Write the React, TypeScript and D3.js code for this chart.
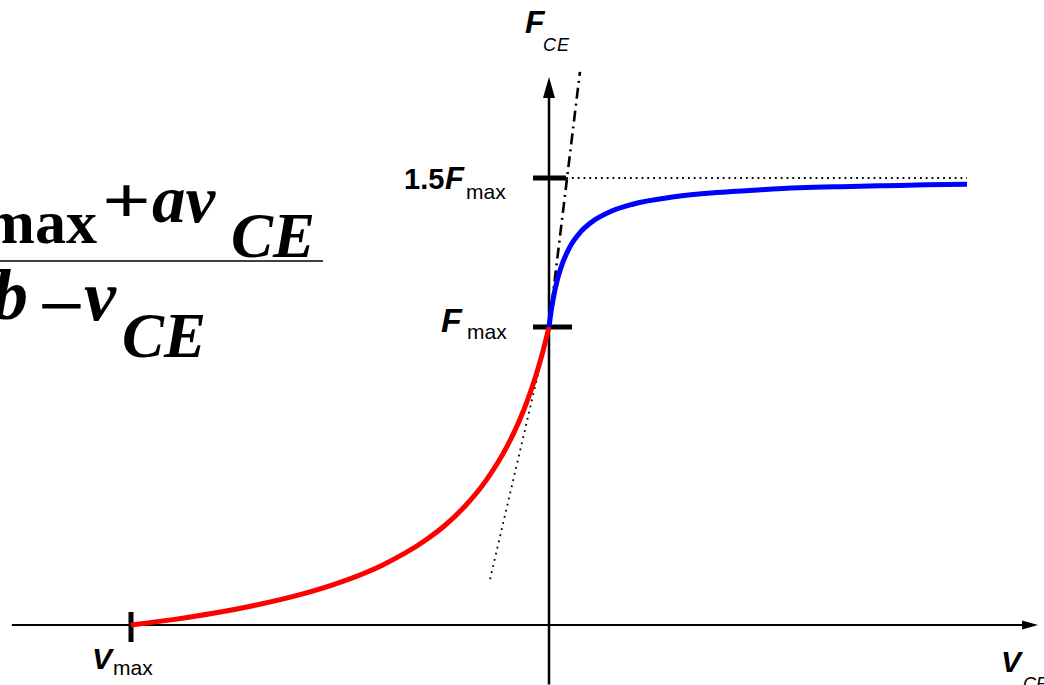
import React from "react";
import * as d3 from "d3";

// Force–velocity relation of the contractile element (normalised units)
// Shortening branch (v < 0)
const velShortening = [-1, -0.9, -0.8, -0.7, -0.6, -0.5, -0.4, -0.3, -0.25, -0.2, -0.15, -0.1, -0.07, -0.05, -0.03, -0.015, 0];
const forceShortening = [0, 0.018, 0.04, 0.067, 0.1, 0.143, 0.2, 0.28, 0.333, 0.4, 0.486, 0.6, 0.689, 0.76, 0.843, 0.916, 1];

// Lengthening branch (v > 0)
const velLengthening = [0, 0.005, 0.01, 0.02, 0.03, 0.05, 0.075, 0.1, 0.15, 0.2, 0.3, 0.4, 0.5, 0.6, 0.7, 0.8, 0.9, 1.0];
const forceLengthening = [1, 1.052, 1.094, 1.159, 1.205, 1.269, 1.318, 1.35, 1.389, 1.412, 1.437, 1.451, 1.46, 1.467, 1.471, 1.474, 1.477, 1.479];

// Tangents at v = 0 and the eccentric asymptote
const tangentShortV = [-0.141, 0];
const tangentShortF = [0.154, 1];
const tangentLengthV = [0, 0.074];
const tangentLengthF = [1, 1.856];
const asymptoteV = [0.041, 1.0];
const asymptoteF = [1.5, 1.5];

// Axis extents and tick positions
const axisV = [-1.285, 1.17];
const axisF = [-0.2, 1.839];
const forceTicks = [1, 1.5];
const velTicks = [-1];

const W = 1044;
const H = 685;

const sans = "'Liberation Sans', Arial, sans-serif";
const serif = "'Liberation Serif', 'Times New Roman', serif";

export default function App() {
  const x = d3.scaleLinear().domain([-1, 0]).range([131, 549]);
  const y = d3.scaleLinear().domain([0, 1]).range([625, 327]);

  const line = d3
    .line<[number, number]>()
    .x((d) => x(d[0]))
    .y((d) => y(d[1]))
    .curve(d3.curveMonotoneX);
  const straight = d3
    .line<[number, number]>()
    .x((d) => x(d[0]))
    .y((d) => y(d[1]));

  const zip = (a: number[], b: number[]) => a.map((v, i) => [v, b[i]] as [number, number]);

  const x0 = x(0);
  const y0 = y(0);
  const xEnd = x(axisV[1]);
  const yTop = y(axisF[1]);

  return (
    <div style={{ position: "fixed", left: 0, top: 0, width: W, height: H, background: "#fff" }}>
      <svg width={W} height={H} style={{ display: "block" }}>
        <rect width={W} height={H} fill="#fff" />

        {/* Equation (partly outside the frame) */}
        <g fontFamily={serif} fontWeight="bold" fill="#000">
          <text x={97} y={243} fontSize={62} textAnchor="end">max</text>
          <text transform="translate(102,223) scale(1.3,1)" fontSize={66}>+</text>
          <text x={152} y={222} fontSize={67} fontStyle="italic">av</text>
          <text x={231} y={257} fontSize={63} fontStyle="italic">CE</text>
          <text x={-8} y={319} fontSize={72} fontStyle="italic">b</text>
          <text transform="translate(38,328) scale(1.25,1)" fontSize={66}>−</text>
          <text x={84} y={320} fontSize={72} fontStyle="italic">v</text>
          <text x={122} y={357} fontSize={63} fontStyle="italic">CE</text>
        </g>
        <line x1={0} x2={323} y1={261} y2={261} stroke="#000" strokeWidth={1.6} />

        {/* Axes */}
        <line x1={x(axisV[0])} x2={xEnd - 10} y1={y0} y2={y0} stroke="#000" strokeWidth={2.2} />
        <polygon
          points={`${xEnd},${y0} ${xEnd - 16},${y0 - 4.5} ${xEnd - 16},${y0 + 4.5}`}
          fill="#000"
        />
        <line x1={x0} x2={x0} y1={y(axisF[0])} y2={yTop + 12} stroke="#000" strokeWidth={2.5} />
        <polygon
          points={`${x0},${yTop} ${x0 - 6},${yTop + 21} ${x0 + 6},${yTop + 21}`}
          fill="#000"
        />

        {/* Ticks */}
        {forceTicks.map((f) => (
          <line
            key={f}
            x1={x0 - 16}
            x2={x0 + (f === 1 ? 23 : 17)}
            y1={y(f)}
            y2={y(f)}
            stroke="#000"
            strokeWidth={5}
          />
        ))}
        {velTicks.map((v) => (
          <line key={v} x1={x(v)} x2={x(v)} y1={y0 - 13} y2={y0 + 17} stroke="#000" strokeWidth={5} />
        ))}

        {/* Reference lines */}
        <path
          d={straight(zip(asymptoteV, asymptoteF)) ?? ""}
          fill="none"
          stroke="#000"
          strokeWidth={1.8}
          strokeDasharray="1.8 4"
        />
        <path
          d={straight(zip(tangentShortV, tangentShortF)) ?? ""}
          fill="none"
          stroke="#000"
          strokeWidth={1.8}
          strokeDasharray="1.8 4.5"
        />
        <path
          d={straight(zip(tangentLengthV, tangentLengthF)) ?? ""}
          fill="none"
          stroke="#000"
          strokeWidth={2.6}
          strokeDasharray="11 5 2 5"
        />

        {/* Force–velocity curve */}
        <path
          d={line(zip(velShortening, forceShortening)) ?? ""}
          fill="none"
          stroke="#ff0000"
          strokeWidth={5}
        />
        <path
          d={line(zip(velLengthening, forceLengthening)) ?? ""}
          fill="none"
          stroke="#0000ff"
          strokeWidth={5}
        />

        {/* Labels */}
        <g fontFamily={sans} fill="#000">
          <text x={525} y={33} fontSize={32} fontWeight="bold" fontStyle="italic">F</text>
          <text x={543} y={51} fontSize={18} fontStyle="italic" letterSpacing={1}>CE</text>

          <text x={404} y={189} fontSize={29} fontWeight="bold">1.5</text>
          <text x={445} y={189} fontSize={31} fontWeight="bold" fontStyle="italic">F</text>
          <text x={466} y={199} fontSize={21}>max</text>

          <text x={441} y={332} fontSize={34} fontWeight="bold" fontStyle="italic">F</text>
          <text x={467} y={339} fontSize={21}>max</text>

          <text x={92} y={669} fontSize={30} fontWeight="bold" fontStyle="italic">V</text>
          <text x={113} y={675} fontSize={21}>max</text>

          <text x={1001} y={672} fontSize={30} fontWeight="bold" fontStyle="italic">V</text>
          <text x={1023} y={690} fontSize={18} fontStyle="italic">CE</text>
        </g>
      </svg>
    </div>
  );
}
